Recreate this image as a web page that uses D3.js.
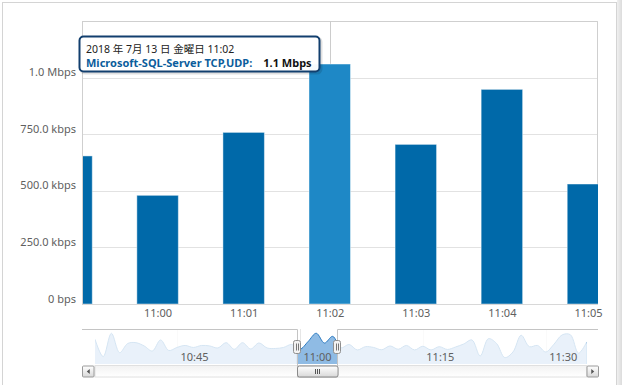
<!DOCTYPE html>
<html><head><meta charset="utf-8">
<script src="https://cdn.jsdelivr.net/npm/d3@7"></script>
<style>
html,body{margin:0;padding:0;background:#fff;}
svg{display:block;font-family:"Noto Sans","Noto Sans CJK JP",sans-serif;}
</style></head><body>
<svg id="c" width="622" height="385"></svg>
<script>
// ---------- data ----------
const barTimes = ["10:59","11:00","11:01","11:02","11:03","11:04","11:05"];
const barValues = [654, 480, 758, 1060, 705, 948, 530]; // kbps
const xTickTimes = ["11:00","11:01","11:02","11:03","11:04","11:05"];
const yTicks = [0, 250, 500, 750, 1000, 1250];
const yTickLabels = ["0 bps","250.0 kbps","500.0 kbps","750.0 kbps","1.0 Mbps",""];
const viewRange = ["10:59:08","11:05:07"];
const hoverIndex = 3;
const tooltipDate = "2018 年 7月 13 日 金曜日 11:02";
const seriesName = "Microsoft-SQL-Server TCP,UDP:";
const tooltipValue = "1.1 Mbps";
// navigator (one value per minute from navStart)
const navStart = "10:35";
const navEnd = "11:35";
const navValues = [842,212,1060,357,690,719,600,418,817,436,
  545,618,545,618,600,527,719,480,719,491,
  708,527,509,545,654,480,758,1060,705,948,
  530,654,455,574,545,462,600,480,618,455,
  589,455,574,473,563,672,817,237,864,690,
  180,380,988,574,618,382,661,1000,1010,340,745];
const navTickTimes = ["10:45","11:00","11:15","11:30"];
const navSelection = ["10:59:38","11:04:35"];

// ---------- helpers ----------
const P = d3.timeParse("%H:%M"), PS = d3.timeParse("%H:%M:%S");
const svg = d3.select("#c");
const fmt = d3.timeFormat("%H:%M");
const labelColor = "#606060";

// outer panel
svg.append("rect").attr("x",2.5).attr("y",2.5).attr("width",614).attr("height",400)
  .attr("fill","#fff").attr("stroke","#d4d4d4");
const g0 = svg.append("defs").append("linearGradient").attr("id","side").attr("x1",0).attr("x2",1);
g0.append("stop").attr("offset",0).attr("stop-color","#f0f0f0");
g0.append("stop").attr("offset",1).attr("stop-color","#dcdcdc");
svg.append("rect").attr("x",617).attr("y",0).attr("width",5).attr("height",385).attr("fill","url(#side)");

// ---------- main chart ----------
const L = 83, R = 598, T = 21, B = 304;
const x = d3.scaleTime().domain(viewRange.map(s=>PS(s))).range([L,R]);
const y = d3.scaleLinear().domain([0,1250]).range([B,T]);

const defs = svg.select("defs");
defs.append("clipPath").attr("id","plotclip").append("rect")
  .attr("x",L).attr("y",T).attr("width",R-L).attr("height",B-T);

// grid
svg.append("g").selectAll("line").data(yTicks).join("line")
  .attr("x1",L).attr("x2",R).attr("y1",d=>Math.round(y(d))+0.5).attr("y2",d=>Math.round(y(d))+0.5)
  .attr("stroke","#e2e2e2");
// plot border top/right
svg.append("path").attr("d",`M${L},${T+0.5}H${R-0.5}V${B}`).attr("fill","none").attr("stroke","#cfcfcf");

// crosshair
const hx = x(P(barTimes[hoverIndex]));
svg.append("line").attr("x1",Math.round(hx)+0.5).attr("x2",Math.round(hx)+0.5)
  .attr("y1",T).attr("y2",B).attr("stroke","#cccccc");

// bars
const step = x(P("11:01")) - x(P("11:00"));
const bw = step*0.482;
svg.append("g").attr("clip-path","url(#plotclip)").selectAll("rect")
  .data(barValues).join("rect")
  .attr("x",(d,i)=>x(P(barTimes[i]))-bw/2)
  .attr("width",bw)
  .attr("y",d=>y(d))
  .attr("height",d=>B-y(d))
  .attr("fill",(d,i)=>i===hoverIndex?"#1e88c6":"#0069a9")
  .attr("stroke","rgba(255,255,255,0.45)").attr("stroke-width",1);

// axes lines
svg.append("line").attr("x1",L-0.5).attr("x2",L-0.5).attr("y1",T).attr("y2",B+1).attr("stroke","#cfcfcf");
svg.append("line").attr("x1",L).attr("x2",R).attr("y1",B+0.5).attr("y2",B+0.5).attr("stroke","#d8d8d8");

// y labels
svg.append("g").selectAll("text").data(yTicks).join("text")
  .attr("x",76).attr("y",d=>y(d)-1.5).attr("text-anchor","end")
  .attr("font-size",11).attr("fill",labelColor)
  .text((d,i)=>yTickLabels[i]);

// x axis
const xa = svg.append("g").attr("transform",`translate(0,${B})`)
  .call(d3.axisBottom(x).tickValues(xTickTimes.map(P)).tickFormat(fmt).tickSize(0).tickPadding(5));
xa.select(".domain").remove();
xa.selectAll("text").attr("font-size",11).attr("fill",labelColor).attr("font-family",null);
xa.attr("font-family",null);

// tooltip
const tt = svg.append("g").attr("transform","translate(79.5,36.5)");
tt.append("rect").attr("x",1.5).attr("y",1.5).attr("width",240).attr("height",35).attr("rx",4)
  .attr("fill","none").attr("stroke","rgba(0,0,0,0.12)").attr("stroke-width",3);
tt.append("rect").attr("width",240).attr("height",35).attr("rx",4)
  .attr("fill","rgba(255,255,255,0.96)").attr("stroke","#123f6e").attr("stroke-width",2);
tt.append("text").attr("x",6.5).attr("y",16.5).attr("font-size",10.5).attr("fill","#222").text(tooltipDate);
const t2 = tt.append("text").attr("x",6.5).attr("y",30.5).attr("font-size",11).attr("font-weight","bold");
t2.append("tspan").attr("fill","#0b5d9c").text(seriesName);
t2.append("tspan").attr("fill","#111").attr("dx",11).text(tooltipValue);

// ---------- navigator ----------
const NL = 95, NR = 586.7, NT = 329, NB = 364;
const nx = d3.scaleTime().domain([P(navStart),P(navEnd)]).range([NL,NR]);
const ny = d3.scaleLinear().domain([0,1200]).range([362.5,329.4]);
const navPts = navValues.map((v,i)=>[d3.timeMinute.offset(P(navStart),i), v]);
const sx0 = nx(PS(navSelection[0])), sx1 = nx(PS(navSelection[1]));

// grid
svg.append("g").selectAll("line").data(navTickTimes).join("line")
  .attr("x1",d=>Math.round(nx(P(d)))+0.5).attr("x2",d=>Math.round(nx(P(d)))+0.5)
  .attr("y1",NT).attr("y2",NB).attr("stroke","#e6e6e6");

defs.append("clipPath").attr("id","navclip").append("rect")
  .attr("x",NL).attr("y",NT).attr("width",NR-NL).attr("height",NB-NT);
const ng = svg.append("g").attr("clip-path","url(#navclip)");
const area = d3.area().x(d=>nx(d[0])).y0(NB).y1(d=>ny(d[1])).curve(d3.curveCatmullRom.alpha(0.5));
const line = d3.line().x(d=>nx(d[0])).y(d=>ny(d[1])).curve(d3.curveCatmullRom.alpha(0.5));
ng.append("path").attr("d",area(navPts)).attr("fill","#8fbbe4");
ng.append("path").attr("d",line(navPts)).attr("fill","none").attr("stroke","#2f7cc1").attr("stroke-width",1);
// masks
ng.append("rect").attr("x",NL).attr("y",NT).attr("width",sx0-NL).attr("height",NB-NT).attr("fill","rgba(255,255,255,0.8)");
ng.append("rect").attr("x",sx1).attr("y",NT).attr("width",NR-sx1).attr("height",NB-NT).attr("fill","rgba(255,255,255,0.8)");

// nav labels
svg.append("g").selectAll("text").data(navTickTimes).join("text")
  .attr("x",d=>nx(P(d))+3.5).attr("y",361).attr("font-size",11).attr("fill",labelColor)
  .text(d=>d);

// scrollbar
const SB_T = 365.5, SB_H = 11.5;
const gtr = defs.append("linearGradient").attr("id","trk").attr("x1",0).attr("x2",0).attr("y1",0).attr("y2",1);
gtr.append("stop").attr("offset",0).attr("stop-color","#f2f2f2");
gtr.append("stop").attr("offset",1).attr("stop-color","#ffffff");
const gbt = defs.append("linearGradient").attr("id","btn").attr("x1",0).attr("x2",0).attr("y1",0).attr("y2",1);
gbt.append("stop").attr("offset",0).attr("stop-color","#ffffff");
gbt.append("stop").attr("offset",1).attr("stop-color","#d8d8d8");
svg.append("rect").attr("x",NL).attr("y",SB_T).attr("width",NR-NL).attr("height",SB_H)
  .attr("fill","url(#trk)").attr("stroke","#e0e0e0");
// buttons
[[82.5,"L"],[NR+0.3,"R"]].forEach(([bx,dir])=>{
  svg.append("rect").attr("x",bx).attr("y",SB_T+0.5).attr("width",11.5).attr("height",SB_H-0.5).attr("rx",1)
    .attr("fill","url(#btn)").attr("stroke","#9a9a9a");
  const cx = bx+5.75, cy = SB_T+6;
  const p = dir==="L" ? `M${cx+1.5},${cy-2.5}L${cx-1.5},${cy}L${cx+1.5},${cy+2.5}Z` : `M${cx-1.5},${cy-2.5}L${cx+1.5},${cy}L${cx-1.5},${cy+2.5}Z`;
  svg.append("path").attr("d",p).attr("fill","#555");
});
// outline
svg.append("path")
  .attr("d",`M82,${NT+0.5}H${Math.round(sx0)+0.5}V${SB_T+SB_H}H${Math.round(sx1)+0.5}V${NT+0.5}H598`)
  .attr("fill","none").attr("stroke","#c4c4c4");
// thumb
svg.append("rect").attr("x",Math.round(sx0)+0.5).attr("y",SB_T+0.5).attr("width",sx1-sx0).attr("height",SB_H-0.5).attr("rx",2)
  .attr("fill","url(#btn)").attr("stroke","#8a8a8a");
const tcx = Math.round((sx0+sx1)/2);
[-2,0,2].forEach(o=>svg.append("line").attr("x1",tcx+o+0.5).attr("x2",tcx+o+0.5)
  .attr("y1",SB_T+3.5).attr("y2",SB_T+8.5).attr("stroke","#555"));
// handles
[sx0,sx1].forEach(hx=>{
  const cx = Math.round(hx);
  svg.append("rect").attr("x",cx-3.5).attr("y",340.5).attr("width",7).attr("height",13).attr("rx",2)
    .attr("fill","#f2f2f2").attr("stroke","#8f8f8f");
  [-1,1].forEach(o=>svg.append("line").attr("x1",cx+o+0.5).attr("x2",cx+o+0.5)
    .attr("y1",343.5).attr("y2",350.5).attr("stroke","#777"));
});
</script></body></html>
